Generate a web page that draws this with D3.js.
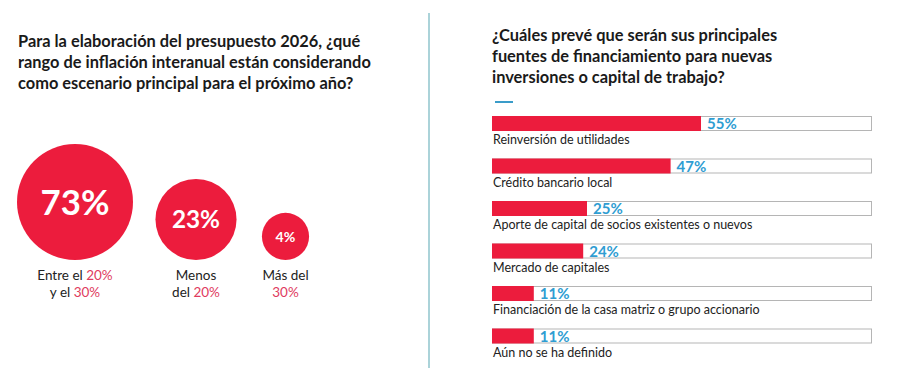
<!DOCTYPE html>
<html><head><meta charset="utf-8">
<script src="https://cdn.jsdelivr.net/npm/d3@7"></script>
<style>body{margin:0;background:#fff}svg{display:block}text{font-family:Lato,"Open Sans",sans-serif}</style>
</head><body>
<svg id="c" width="900" height="379"></svg>
<script>
const leftTitle = ["Para la elaboración del presupuesto 2026, ¿qué","rango de inflación interanual están considerando","como escenario principal para el próximo año?"];
const rightTitle = ["¿Cuáles prevé que serán sus principales","fuentes de financiamiento para nuevas","inversiones o capital de trabajo?"];
const circleValues = [73, 23, 4];
const circleLabelLines = [
  [[["Entre el ",0],["20%",1]],[["y el ",0],["30%",1]]],
  [[["Menos",0]],[["del ",0],["20%",1]]],
  [[["Más del",0]],[["30%",1]]]
];
const barCategories = ["Reinversión de utilidades","Crédito bancario local","Aporte de capital de socios existentes o nuevos","Mercado de capitales","Financiación de la casa matriz o grupo accionario","Aún no se ha definido"];
const barValues = [55, 47, 25, 24, 11, 11];

const RED = "#ec1c3d", BLUE = "#2f9dd2", PINK = "#e03a5e";
const svg = d3.select("#c");

// divider
svg.append("line").attr("x1",429).attr("x2",429).attr("y1",13).attr("y2",368)
  .attr("stroke","#8fc5cd").attr("stroke-width",1.5);

// titles
const tl = svg.append("text").attr("x",18).attr("y",46).attr("font-size",16.4).attr("font-weight",700).attr("fill","#1a1a1a");
leftTitle.forEach((t,i)=>tl.append("tspan").attr("x",18).attr("y",47+i*21).text(t));
const tr = svg.append("text").attr("x",492).attr("y",40).attr("font-size",16.4).attr("font-weight",700).attr("fill","#1a1a1a");
rightTitle.forEach((t,i)=>tr.append("tspan").attr("x",492).attr("y",41+i*21).text(t));

// circles
const rScale = d3.scalePow().exponent(0.31).domain([0, d3.max(circleValues)]).range([0, 58]);
const centers = [75, 196, 285.5];
const baseY = 260;
const g = svg.append("g");
circleValues.forEach((v,i)=>{
  const r = rScale(v);
  const cx = centers[i];
  const cy = baseY - r;
  g.append("circle").attr("cx",cx).attr("cy",cy).attr("r",r).attr("fill",RED);
  g.append("text").attr("x",cx).attr("y",cy).attr("dy","0.36em").attr("text-anchor","middle")
    .attr("fill","#fff").attr("font-weight",700).attr("font-size", r*0.6).text(v+"%");
  circleLabelLines[i].forEach((line,j)=>{
    const t = g.append("text").attr("x",cx).attr("y",280+j*17).attr("text-anchor","middle").attr("font-size",13.5).attr("fill","#222");
    line.forEach(([s,c])=>t.append("tspan").attr("fill", c? PINK : "#222").text(s));
  });
});

// bars
const x = d3.scaleLinear().domain([0,100]).range([492, 872]);
const y = d3.scaleBand().domain(barCategories).range([116, 371]).paddingInner(0).paddingOuter(0);
const barH = 15;
const bg = svg.append("g");
barCategories.forEach((c,i)=>{
  const yy = y(c);
  bg.append("rect").attr("x",x(0)+0.5).attr("y",yy+0.5).attr("width",x(100)-x(0)-1).attr("height",barH-1)
    .attr("fill","#fff").attr("stroke","#b5b5b5").attr("stroke-width",1);
  bg.append("rect").attr("x",x(0)).attr("y",yy).attr("width",x(barValues[i])-x(0)).attr("height",barH).attr("fill",RED);
  bg.append("text").attr("x",x(barValues[i])+6).attr("y",yy+barH/2).attr("dy","0.38em")
    .attr("font-size",15).attr("font-weight",700).attr("fill",BLUE).text(barValues[i]+"%");
  bg.append("text").attr("x",493).attr("y",yy+barH+13).attr("font-size",12.5).attr("fill","#222").text(c);
});
// small accent line
svg.append("line").attr("x1",495).attr("x2",513).attr("y1",102).attr("y2",102).attr("stroke","#3a9cc9").attr("stroke-width",2);
</script>
</body></html>
